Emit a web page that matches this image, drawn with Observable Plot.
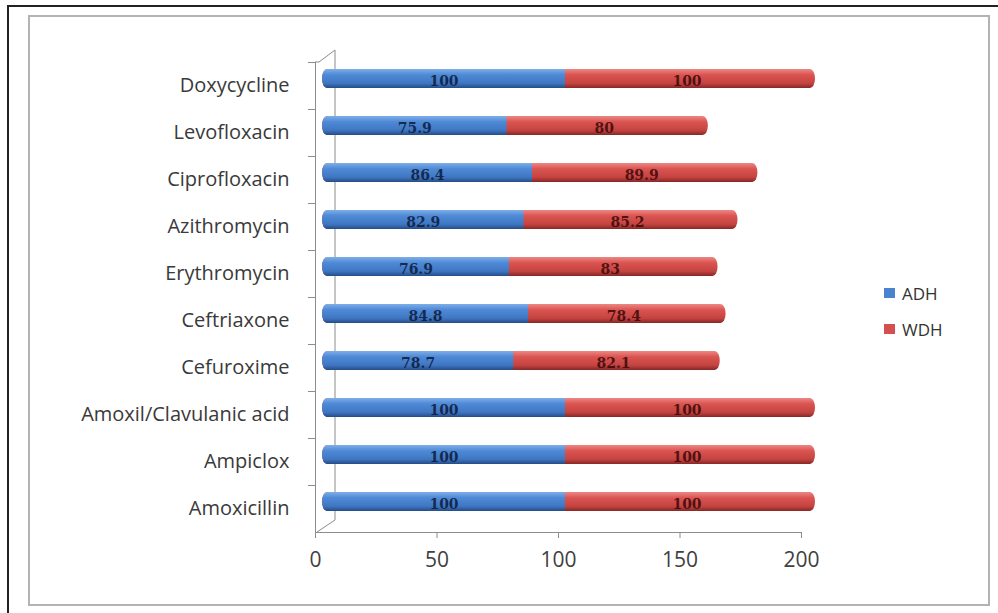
<!DOCTYPE html>
<html><head><meta charset="utf-8">
<script src="https://cdn.jsdelivr.net/npm/d3@7"></script>
<script src="https://cdn.jsdelivr.net/npm/@observablehq/plot@0.6"></script>
<style>
html,body{margin:0;padding:0;background:#fff;}
#wrap{position:relative;width:998px;height:613px;overflow:hidden;background:#fff;}
#outer{position:absolute;left:7px;top:5px;width:1000px;height:620px;border-left:2px solid #222;border-top:2px solid #222;}
#inner{position:absolute;left:28px;top:15px;width:958px;height:587px;border:2px solid #b3b3b3;}
#chart{position:absolute;left:0;top:0;}
.legend{position:absolute;left:884px;font:17px "Open Sans",sans-serif;color:#333;display:flex;align-items:center;height:24px;}
.sw{width:11px;height:10px;margin-right:7px;}
</style></head>
<body>
<div id="wrap">
  <div id="outer"></div>
  <div id="inner"></div>
  <div id="chart"></div>
  <div id="legend"></div>
</div>
<script>
const drugs = ["Doxycycline","Levofloxacin","Ciprofloxacin","Azithromycin","Erythromycin","Ceftriaxone","Cefuroxime","Amoxil/Clavulanic acid","Ampiclox","Amoxicillin"];
const adh = [100, 75.9, 86.4, 82.9, 76.9, 84.8, 78.7, 100, 100, 100];
const wdh = [100, 80, 89.9, 85.2, 83, 78.4, 82.1, 100, 100, 100];
const xTicks = [0, 50, 100, 150, 200];
const series = ["ADH", "WDH"];
const colors = ["#4a84d0", "#d4504e"];

const table = drugs.map((d, i) => ({drug: d, adh: adh[i], wdh: wdh[i], total: adh[i] + wdh[i]}));

const W = 998, H = 613, mL = 315, mR = 197, mT = 62, mB = 81;
const step = (H - mT - mB) / drugs.length;
const depthX = 7, depthY = -7;
const barOpts = {y: "drug", insetTop: 14, insetBottom: 14, dx: depthX, dy: depthY};

const plot = Plot.plot({
  width: W, height: H,
  marginLeft: mL, marginRight: mR, marginTop: mT, marginBottom: mB,
  style: {fontFamily: "'Open Sans', sans-serif", background: "transparent", overflow: "visible", color: "#404040"},
  x: {domain: [0, 200], label: null},
  y: {domain: drugs, padding: 0, label: null},
  marks: [
    Plot.frame({anchor: "left", stroke: "#8c8c8c"}),
    Plot.frame({anchor: "bottom", stroke: "#8c8c8c"}),
    Plot.axisX(xTicks, {tickSize: 6, tickPadding: 14, fontSize: 21, stroke: "#8c8c8c", fill: "#404040", label: null}),
    Plot.axisY({tickSize: 0, tickPadding: 26, fontSize: 20, fill: "#3a3a3a", label: null}),
    Plot.axisY({tickSize: 7, tickFormat: () => "", dy: -step / 2, stroke: "#8c8c8c", label: null}),
    Plot.barX(table, {...barOpts, x1: 0, x2: "total", insetRight: -7, fill: "url(#gWDH)", rx: 5, ry: 9.5}),
    Plot.barX(table, {...barOpts, x1: 0, x2: "adh", fill: "url(#gADH)", rx: 5, ry: 9.5}),
    Plot.barX(table, {...barOpts, x1: d => d.adh / 2, x2: "adh", fill: "url(#gADH)"}),
    Plot.text(table, {x: d => d.adh / 2, y: "drug", text: d => String(d.adh), dx: depthX, dy: depthY + 3, fontFamily: "DejaVu Serif", fontWeight: "bold", fontSize: 14, fill: "#0c1a3c", fillOpacity: 0.85}),
    Plot.text(table, {x: d => d.adh + d.wdh / 2, y: "drug", text: d => String(d.wdh), dx: depthX, dy: depthY + 3, fontFamily: "DejaVu Serif", fontWeight: "bold", fontSize: 14, fill: "#3a0808", fillOpacity: 0.85})
  ]
});

const svg = d3.select(plot);
const defs = svg.insert("defs", ":first-child");
function grad(id, stops) {
  const g = defs.append("linearGradient").attr("id", id).attr("x1", 0).attr("y1", 0).attr("x2", 0).attr("y2", 1);
  stops.forEach(([o, c]) => g.append("stop").attr("offset", o).attr("stop-color", c));
}
grad("gADH", [[0, "#7eaee8"], [0.3, "#4f8ad6"], [0.75, "#3f76c2"], [1, "#244c86"]]);
grad("gWDH", [[0, "#ec8884"], [0.3, "#db5552"], [0.75, "#c44340"], [1, "#862826"]]);

// 3D back wall, positioned from the library's scales
const xs = plot.scale("x");
const x0 = xs.apply(0);
const yTop = mT, yBot = H - mB;
const wall = d3.path();
wall.moveTo(x0, yTop); wall.lineTo(x0 + 4, yTop); wall.lineTo(x0 + 20, yTop - 12);
wall.lineTo(x0 + 20, yBot - 12); wall.lineTo(x0 + 2, yBot);
svg.insert("path", "g[aria-label=bar]").attr("d", wall.toString()).attr("fill", "none").attr("stroke", "#8c8c8c");

document.getElementById("chart").appendChild(plot);

const leg = document.getElementById("legend");
const legTops = [281, 317];
series.forEach((s, i) => {
  const row = document.createElement("div");
  row.className = "legend";
  row.style.top = legTops[i] + "px";
  row.innerHTML = `<span class="sw" style="background:${colors[i]}"></span><span>${s}</span>`;
  leg.appendChild(row);
});
</script>
</body></html>
